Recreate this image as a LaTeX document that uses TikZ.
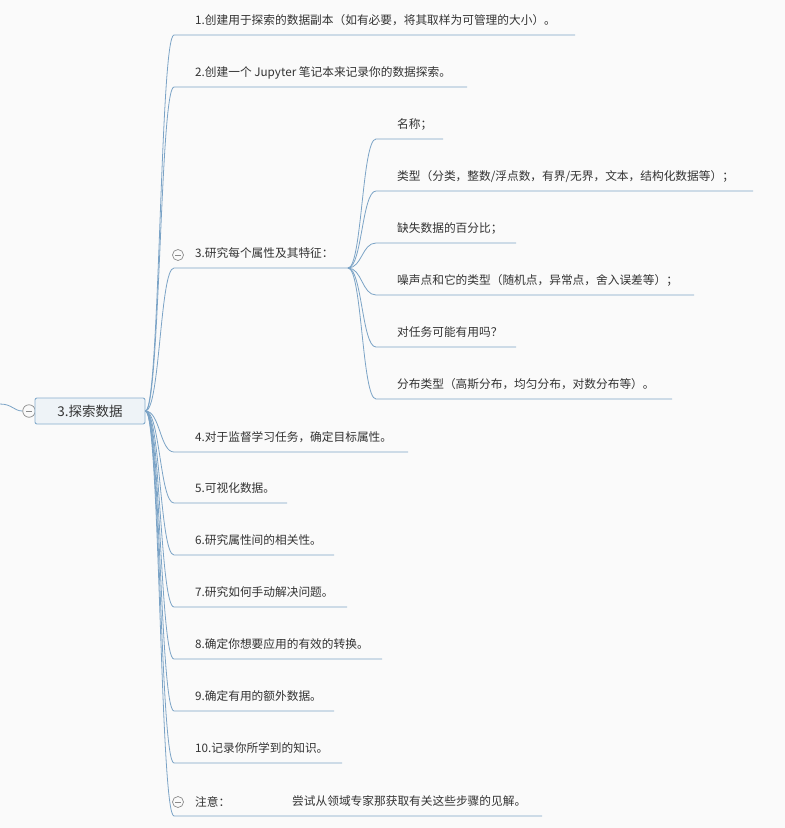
\documentclass[tikz,border=0pt]{standalone}
\usepackage{fontspec}
\setmainfont{Noto Sans CJK SC}
\definecolor{bgc}{HTML}{FAFAFA}
\definecolor{lnc}{HTML}{7BA3C6}
\definecolor{rootfill}{HTML}{EEF3F7}
\definecolor{rootline}{HTML}{86ADCD}
\definecolor{txc}{HTML}{333333}
\definecolor{cgc}{HTML}{8A8A8A}
\begin{document}
\begin{tikzpicture}[x=1pt,y=-1pt,
  every node/.style={inner sep=0pt, text=txc},
  itemtext/.style={anchor=west, font=\fontsize{11.7}{14}\selectfont},
  branch/.style={draw=lnc, line width=0.8pt},
  rootbox/.style={draw=rootline, line width=0.9pt, fill=rootfill, rounded corners=2pt, minimum width=110pt, minimum height=26pt, font=\fontsize{13.5}{15}\selectfont},
  collapsebtn/.style={circle, draw=cgc, fill=bgc, line width=0.7pt, minimum size=11pt,
    path picture={\draw[cgc, line width=0.7pt] ([xshift=-3pt]path picture bounding box.center) -- ([xshift=3pt]path picture bounding box.center);}},
  bigcollapse/.style={collapsebtn, minimum size=12.5pt}
]
\fill[bgc] (0,0) rectangle (785,828);
\useasboundingbox (0,0) rectangle (785,828);

% root
\coordinate (in) at (0,404);
\node[bigcollapse] (rc) at (29,411) {};
\draw[branch] (in) .. controls (12,404) and (14,411) .. (rc.west);
\node[rootbox] (root) at (90,411) {3.探索数据};

% main items
\foreach \n/\y/\e/\t in {
  1/35/575/{1.创建用于探索的数据副本（如有必要，将其取样为可管理的大小）。},
  2/87/467/{2.创建一个 Jupyter 笔记本来记录你的数据探索。},
  3/268/348/{3.研究每个属性及其特征：},
  4/452/408/{4.对于监督学习任务，确定目标属性。},
  5/503/287/{5.可视化数据。},
  6/555/334/{6.研究属性间的相关性。},
  7/607/347/{7.研究如何手动解决问题。},
  8/659/382/{8.确定你想要应用的有效的转换。},
  9/711/334/{9.确定有用的额外数据。},
  10/763/342/{10.记录你所学到的知识。},
  11/816/542/{注意：}}
{
  \coordinate (s\n) at (174,\y);
  \coordinate (e\n) at (\e,\y);
  \node[itemtext] (t\n) at (195,\y-14.5) {\t};
  \draw[branch] (root.east) .. controls (160,411) and (160,\y) .. (s\n) -- (e\n);
}
\node[itemtext] (note) at (292,801.5) {尝试从领域专家那获取有关这些步骤的见解。};
\node[collapsebtn] (c3) at (178,255) {};
\node[collapsebtn] (c11) at (178,802) {};

% sub items of 3
\foreach \n/\y/\e/\t in {
  1/139/443/{名称；},
  2/191/753/{类型（分类，整数/浮点数，有界/无界，文本，结构化数据等）；},
  3/243/516/{缺失数据的百分比；},
  4/295/694/{噪声点和它的类型（随机点，异常点，舍入误差等）；},
  5/347/516/{对任务可能有用吗？},
  6/399/672/{分布类型（高斯分布，均匀分布，对数分布等）。}}
{
  \coordinate (ss\n) at (376,\y);
  \coordinate (se\n) at (\e,\y);
  \node[itemtext] (st\n) at (397,\y-14.5) {\t};
  \draw[branch] (e3) .. controls (362,268) and (362,\y) .. (ss\n) -- (se\n);
}
\end{tikzpicture}
\end{document}
